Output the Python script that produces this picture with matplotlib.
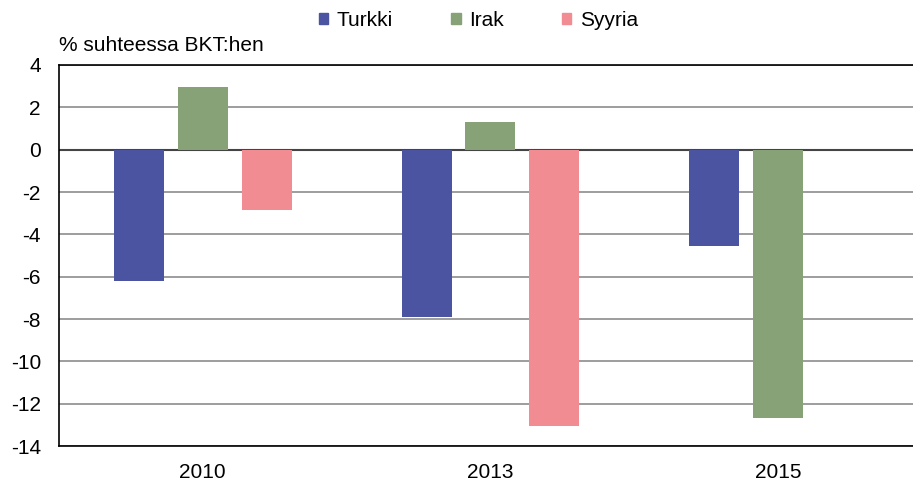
import numpy as np
import matplotlib
matplotlib.use("Agg")
import matplotlib.pyplot as plt
from matplotlib.patches import Patch

years = ["2010", "2013", "2015"]
series = ["Turkki", "Irak", "Syyria"]
turkki = [-6.2, -7.9, -4.55]
irak = [2.95, 1.33, -12.7]
syyria = [-2.85, -13.05, np.nan]
colors = ["#4B54A0", "#88A278", "#F08C92"]

plt.rcParams["font.family"] = ["Liberation Sans", "DejaVu Sans"]

fig = plt.figure(figsize=(9.13, 4.8), dpi=100)
ax = fig.add_axes([0.0646, 0.0708, 0.945, 0.7938])

x = np.arange(len(years))
offset = 0.222
width = 0.174
for i, (vals, c) in enumerate(zip([turkki, irak, syyria], colors)):
    ax.bar(x + (i - 1) * offset, vals, width, color=c, zorder=3)

ax.set_xlim(-0.5, 2.5)
ax.set_ylim(-14, 4)
ax.set_yticks(np.arange(-14, 5, 2))
ax.set_xticks(x)
ax.set_xticklabels(years)

ax.grid(axis="y", color="#8C8C8C", linewidth=1.2, zorder=0)
ax.axhline(0, color="#444444", linewidth=1.5, zorder=2)
for side in ["left", "top", "bottom"]:
    ax.spines[side].set_color("black")
    ax.spines[side].set_linewidth(1.2)
ax.spines["right"].set_visible(False)
ax.tick_params(axis="both", length=0, labelsize=15)
ax.tick_params(axis="y", pad=13)
ax.tick_params(axis="x", pad=12)
ax.set_yticklabels([str(t) for t in range(-14, 5, 2)])

fig.text(0.0646, 0.886, "% suhteessa BKT:hen", fontsize=15, ha="left", va="bottom")

handles = [Patch(color=c, label=s) for s, c in zip(series, colors)]
fig.legend(handles=handles, loc="upper center", bbox_to_anchor=(0.524, 1.016), ncol=3,
           frameon=False, fontsize=15, handlelength=0.45, handleheight=0.45,
           handletextpad=0.4, columnspacing=2.8)

fig.savefig("out.png", dpi=100)
